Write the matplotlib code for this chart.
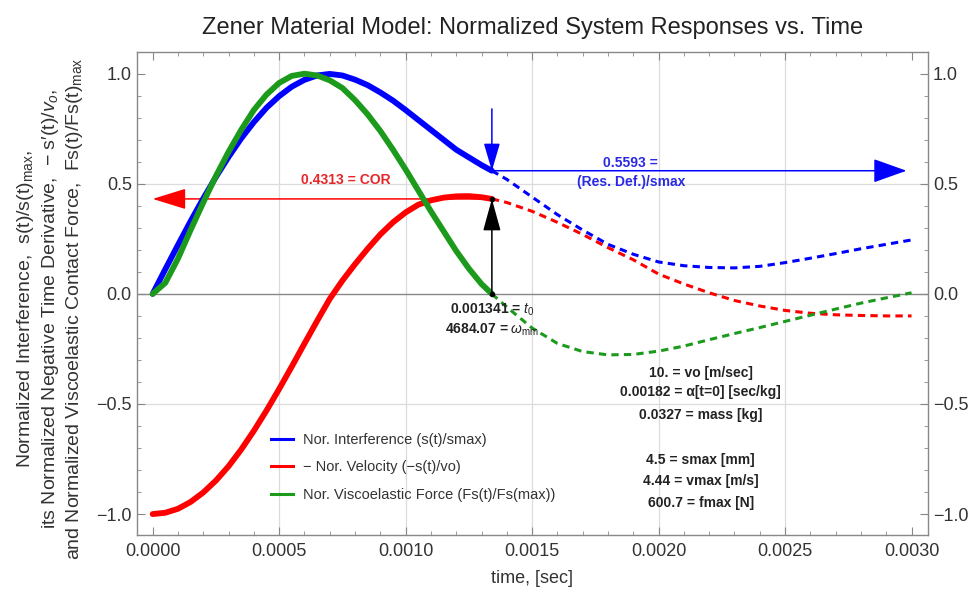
import matplotlib
matplotlib.use("Agg")
import matplotlib.pyplot as plt
from matplotlib.lines import Line2D
from matplotlib.ticker import MultipleLocator, FuncFormatter

plt.rcParams['font.family'] = ['Liberation Sans', 'DejaVu Sans']
plt.rcParams['mathtext.fontset'] = 'custom'
plt.rcParams['mathtext.rm'] = 'Liberation Sans'
plt.rcParams['mathtext.it'] = 'Liberation Sans:italic'
plt.rcParams['mathtext.bf'] = 'Liberation Sans:bold'

# ---------------- data ----------------
t0 = 0.001341
cor = 0.4313
res_def = 0.5593

# contact phase (solid)
t_solid = [0.0, 0.00005, 0.0001, 0.00015, 0.0002, 0.00025, 0.0003, 0.00035, 0.0004,
           0.00045, 0.0005, 0.00055, 0.0006, 0.00065, 0.0007, 0.00075, 0.0008,
           0.00085, 0.0009, 0.00095, 0.001, 0.00105, 0.0011, 0.00115, 0.0012,
           0.00125, 0.0013, 0.001341]
interf_solid = [0.0, 0.112, 0.222, 0.330, 0.433, 0.531, 0.622, 0.706, 0.780, 0.845,
                0.898, 0.941, 0.972, 0.992, 0.999, 0.992, 0.973, 0.948, 0.915, 0.878,
                0.835, 0.790, 0.745, 0.700, 0.655, 0.620, 0.585, 0.5593]
veloc_solid = [-1.000, -0.994, -0.976, -0.945, -0.902, -0.848, -0.783, -0.707, -0.622,
               -0.530, -0.432, -0.330, -0.226, -0.123, -0.023, 0.060, 0.135, 0.205,
               0.270, 0.325, 0.370, 0.405, 0.425, 0.437, 0.443, 0.444, 0.439, 0.4313]
force_solid = [0.0, 0.05, 0.16, 0.29, 0.415, 0.535, 0.645, 0.745, 0.835, 0.905, 0.958,
               0.99, 1.00, 0.992, 0.97, 0.935, 0.88, 0.815, 0.74, 0.655, 0.565, 0.47,
               0.375, 0.285, 0.195, 0.115, 0.045, 0.0]

# after separation (dashed)
t_dash = [0.001341, 0.0014, 0.0015, 0.0016, 0.0017, 0.0018, 0.0019, 0.0020, 0.0021,
          0.0022, 0.0023, 0.0024, 0.0025, 0.0026, 0.0027, 0.0028, 0.0029, 0.0030]
interf_dash = [0.5593, 0.52, 0.44, 0.36, 0.29, 0.225, 0.18, 0.145, 0.128, 0.12, 0.118,
               0.125, 0.142, 0.162, 0.183, 0.205, 0.225, 0.245]
veloc_dash = [0.4313, 0.415, 0.375, 0.325, 0.27, 0.21, 0.155, 0.09, 0.045, 0.005,
              -0.03, -0.055, -0.075, -0.088, -0.095, -0.098, -0.10, -0.10]
force_dash = [0.0, -0.06, -0.155, -0.225, -0.262, -0.277, -0.275, -0.26, -0.237,
              -0.208, -0.18, -0.153, -0.125, -0.097, -0.069, -0.042, -0.018, 0.005]

legend_labels = ["Nor. Interference (s(t)/smax)",
                 "\u2212 Nor. Velocity (\u2212s(t)/vo)",
                 "Nor. Viscoelastic Force (Fs(t)/Fs(max))"]
param_lines = ["10. = vo [m/sec]",
               "0.00182 = \u03b1[t=0] [sec/kg]",
               "0.0327 = mass [kg]",
               "",
               "4.5 = smax [mm]",
               "4.44 = vmax [m/s]",
               "600.7 = fmax [N]"]

BLUE = '#0000ff'
RED = '#ff0000'
GREEN = '#1c9a1c'

# ---------------- figure ----------------
fig = plt.figure(figsize=(9.71, 5.92), dpi=100)
ax = fig.add_axes([0.1408, 0.0963, 0.8149, 0.8164])
ax.set_xlim(-0.000063, 0.003065)
ax.set_ylim(-1.095, 1.10)

# grid and zero line
for gx in [0.0005, 0.0010, 0.0015, 0.0020, 0.0025]:
    ax.axvline(gx, color='#dcdcdc', lw=0.9, zorder=0)
for gy in [0.5, -0.5]:
    ax.axhline(gy, color='#dcdcdc', lw=0.9, zorder=0)
ax.axhline(0.0, color='#888888', lw=1.0, zorder=1)

# dashed curves
dash_kw = dict(lw=2.2, dashes=(2.4, 1.7), zorder=2)
ax.plot(t_dash, interf_dash, color=BLUE, **dash_kw)
ax.plot(t_dash, veloc_dash, color=RED, **dash_kw)
ax.plot(t_dash, force_dash, color=GREEN, **dash_kw)

# arrows
ax.annotate('', xy=(0.0, cor), xytext=(t0, cor),
            arrowprops=dict(arrowstyle='-|>,head_length=2.1,head_width=0.65',
                            color=RED, lw=1.1, shrinkA=0, shrinkB=0,
                            mutation_scale=10), zorder=2.5)
ax.annotate('', xy=(0.00298, res_def), xytext=(t0, res_def),
            arrowprops=dict(arrowstyle='-|>,head_length=2.1,head_width=0.75',
                            color=BLUE, lw=1.1, shrinkA=0, shrinkB=0,
                            mutation_scale=10), zorder=2.5)
ax.annotate('', xy=(t0, res_def), xytext=(t0, 0.84),
            arrowprops=dict(arrowstyle='-|>,head_length=1.7,head_width=0.5',
                            color=BLUE, lw=1.1, shrinkA=0, shrinkB=0,
                            mutation_scale=10), zorder=2.5)
ax.annotate('', xy=(t0, cor), xytext=(t0, 0.0),
            arrowprops=dict(arrowstyle='-|>,head_length=2.0,head_width=0.55',
                            color='black', lw=1.1, shrinkA=0, shrinkB=0,
                            mutation_scale=10), zorder=4)

# solid curves
solid_kw = dict(lw=4.2, solid_capstyle='round', solid_joinstyle='round', zorder=3)
ax.plot(t_solid, veloc_solid, color=RED, **solid_kw)
ax.plot(t_solid, interf_solid, color=BLUE, **solid_kw)
ax.plot(t_solid, force_solid, color=GREEN, **solid_kw)
ax.plot([t0, t0], [0.0, cor], 'o', color='black', ms=3, zorder=5)

# text annotations
FS_ANN = 10
ax.text(0.000765, 0.518, "0.4313 = COR", color='#e8252a', fontsize=FS_ANN,
        fontweight='bold', ha='center', va='center', zorder=6)
ax.text(0.00189, 0.595, "0.5593 =", color='#2a2ae6', fontsize=FS_ANN,
        fontweight='bold', ha='center', va='center', zorder=6)
ax.text(0.00189, 0.509, "(Res. Def.)/smax", color='#2a2ae6', fontsize=FS_ANN,
        fontweight='bold', ha='center', va='center', zorder=6)
ax.text(t0, -0.073, r"0.001341 = $t_0$", color='#222222', fontsize=FS_ANN,
        fontweight='bold', ha='center', va='center', zorder=6)
ax.text(t0, -0.164, r"4684.07 = $\omega_{\rm mm}$", color='#222222', fontsize=FS_ANN,
        fontweight='bold', ha='center', va='center', zorder=6)
py = [-0.36, -0.445, -0.55, None, -0.755, -0.848, -0.95]
for s, yy in zip(param_lines, py):
    if s:
        ax.text(0.002166, yy, s, color='#222222', fontsize=FS_ANN, fontweight='bold',
                ha='center', va='center', zorder=6)

# legend
handles = [Line2D([], [], color=BLUE, lw=2.2),
           Line2D([], [], color=RED, lw=2.2),
           Line2D([], [], color=GREEN, lw=2.2)]
leg = ax.legend(handles, legend_labels, loc='upper left',
                bbox_to_anchor=(0.17, 0.2115), frameon=False, fontsize=10.5,
                handlelength=1.5, handletextpad=0.7, labelspacing=0.93,
                borderpad=0.0, borderaxespad=0.0)
for txt in leg.get_texts():
    txt.set_color('#333333')

# ticks
def xfmt(v, pos):
    return ('%.4f' % v).replace('-', '\u2212')

def yfmt(v, pos):
    s = '%.1f' % v
    if s == '-0.0':
        s = '0.0'
    return s.replace('-', '\u2212')

ax.xaxis.set_major_locator(MultipleLocator(0.0005))
ax.xaxis.set_minor_locator(MultipleLocator(0.0001))
ax.xaxis.set_major_formatter(FuncFormatter(xfmt))
ax.yaxis.set_major_locator(MultipleLocator(0.5))
ax.yaxis.set_minor_locator(MultipleLocator(0.1))
ax.yaxis.set_major_formatter(FuncFormatter(yfmt))
ax.tick_params(which='both', direction='in', top=True, right=True,
               labelright=True, color='#888888', labelcolor='#333333',
               labelsize=13)
ax.tick_params(which='major', length=6, width=0.8)
ax.tick_params(which='minor', length=3, width=0.6)
ax.tick_params(axis='x', pad=6)
for sp in ax.spines.values():
    sp.set_color('#888888')
    sp.set_linewidth(1.0)

ax.set_xlabel("time, [sec]", fontsize=13, color='#333333', labelpad=7)
ax.set_title("Zener Material Model: Normalized System Responses vs. Time",
             fontsize=17, color='#222222', pad=13)

fig.text(0.0515, 0.478,
         "Normalized Interference,  s(t)/s(t)$_{\\rm max}$,\n"
         "its Normalized Negative Time Derivative,  \u2212 s\u2032(t)/$v_o$,\n"
         "and Normalized Viscoelastic Contact Force,  Fs(t)/Fs(t)$_{\\rm max}$",
         rotation=90, ha='center', va='center', multialignment='center',
         fontsize=14, color='#333333', linespacing=1.25)

fig.savefig('out.png', dpi=100)
